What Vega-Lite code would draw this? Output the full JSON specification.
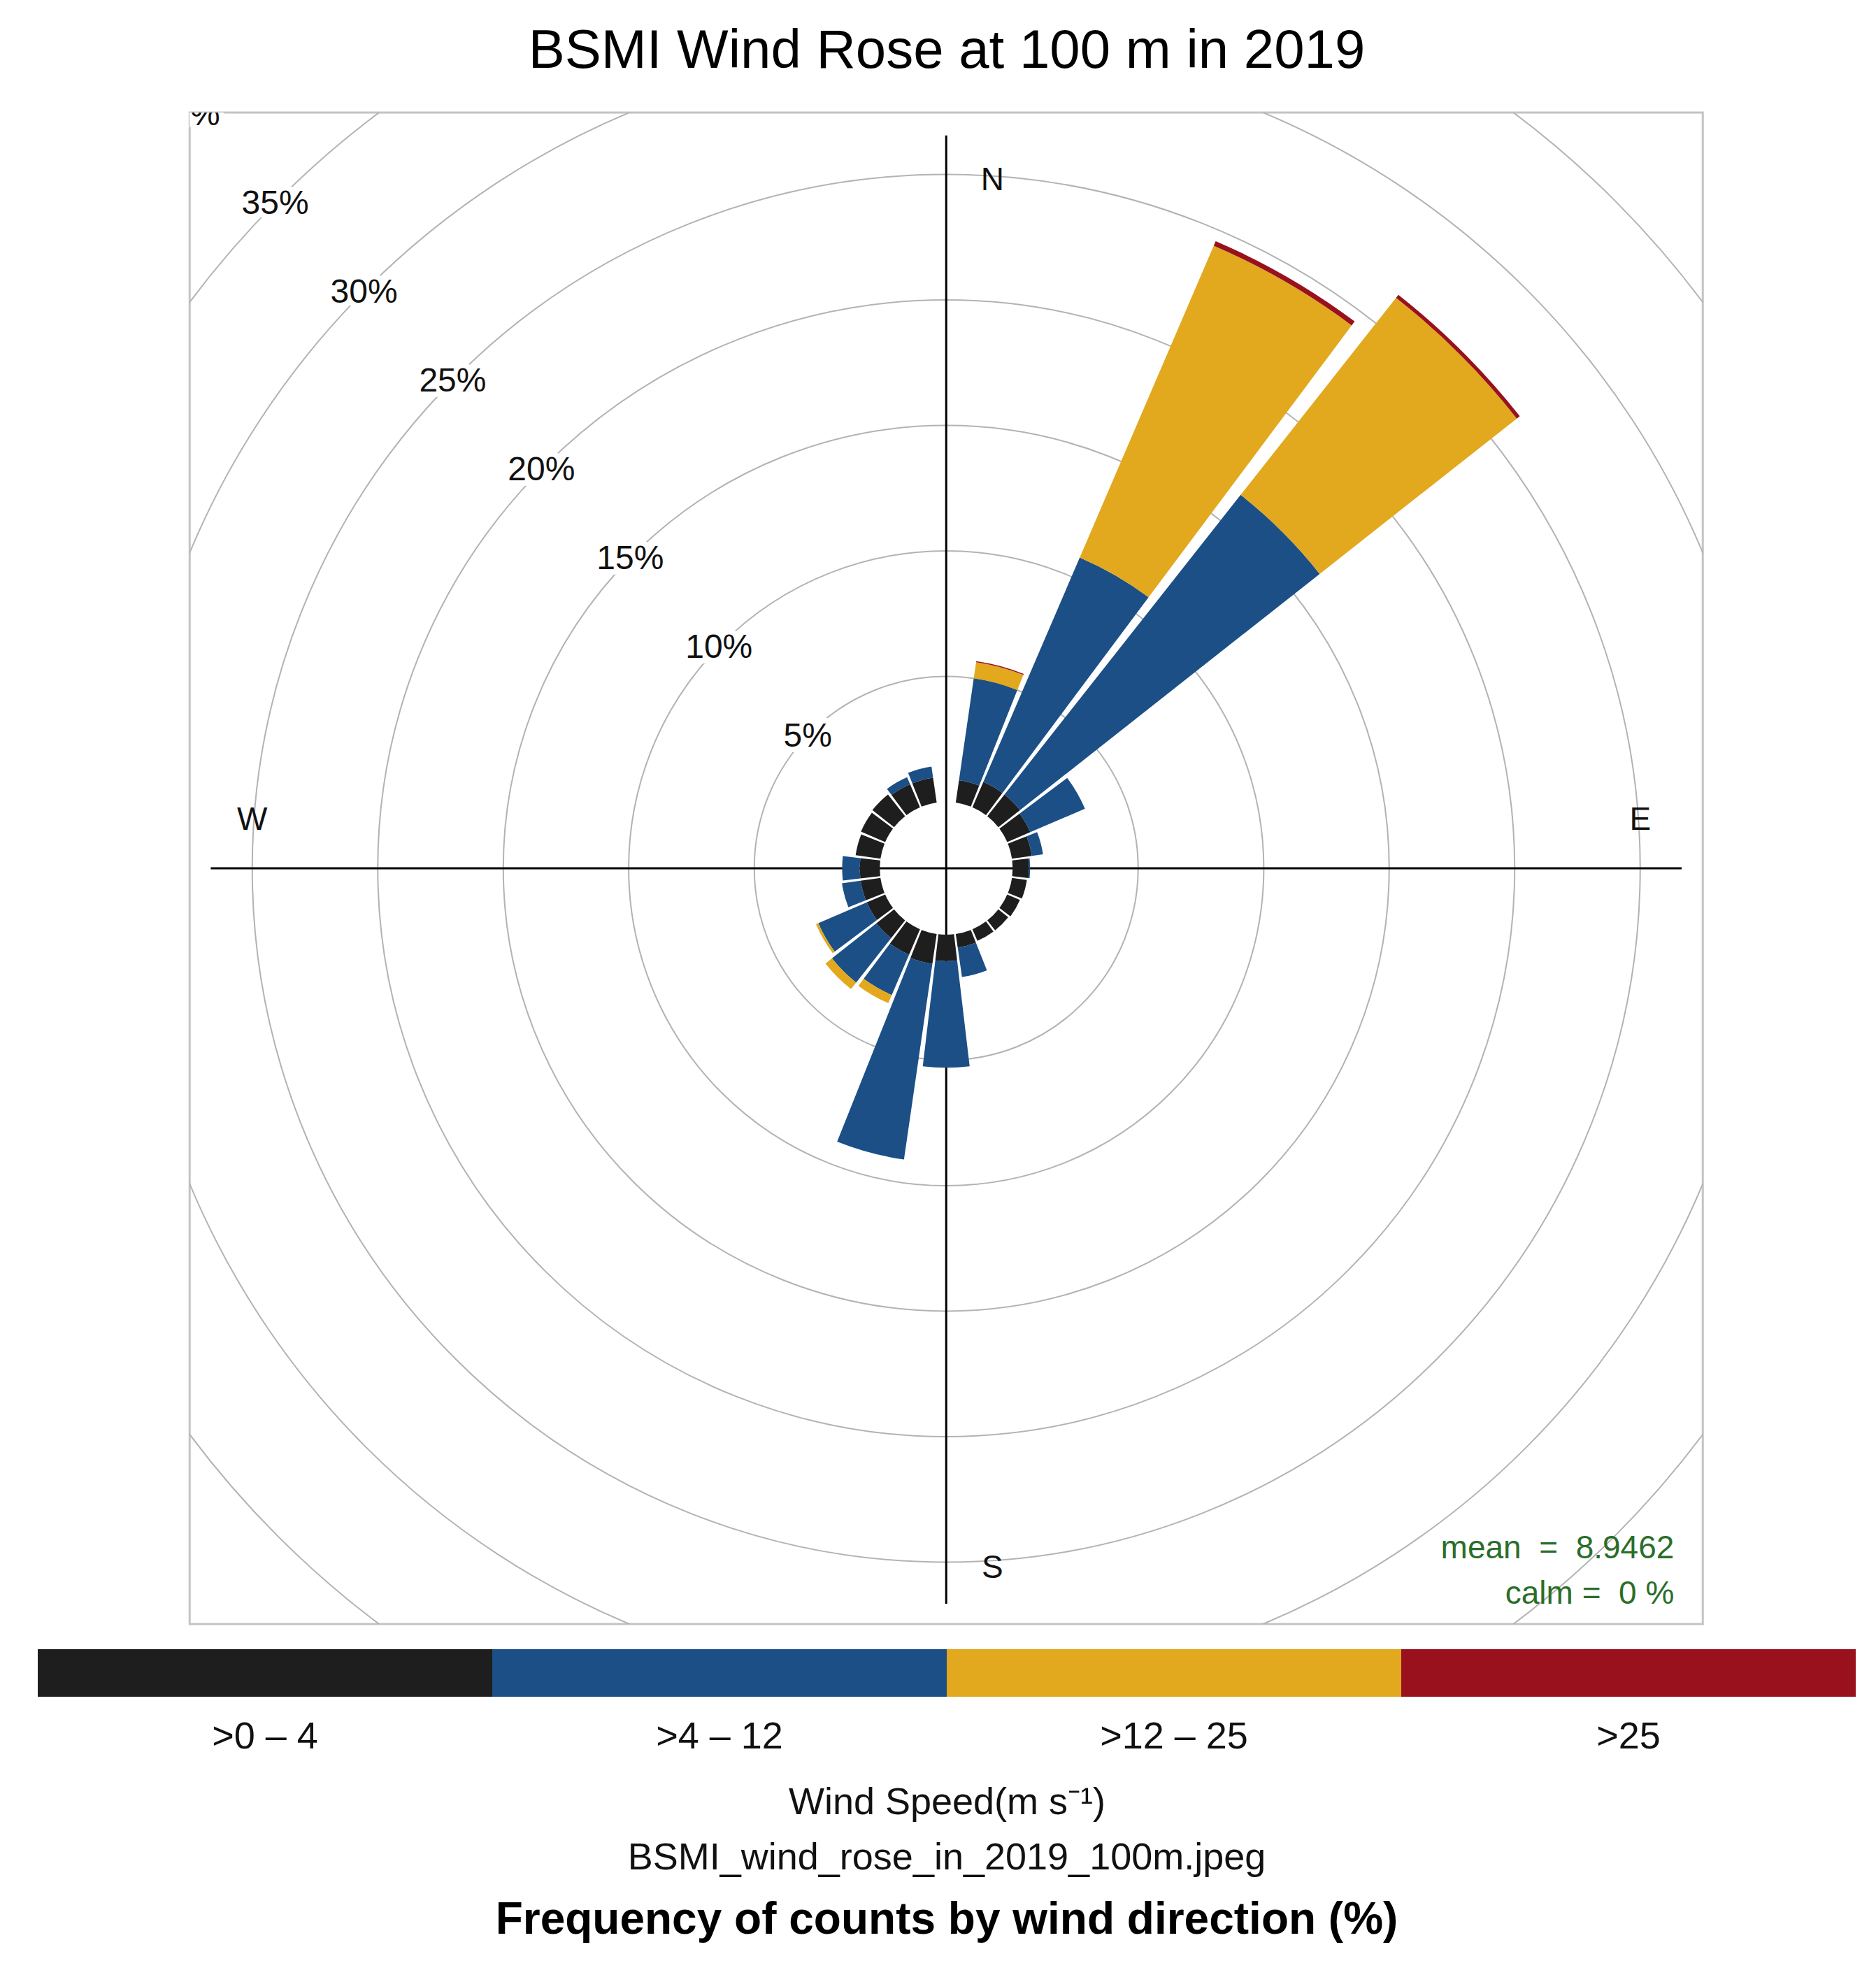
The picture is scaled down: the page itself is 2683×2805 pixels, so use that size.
{
  "$schema": "https://vega.github.io/schema/vega-lite/v6.json",
  "background": "white",
  "padding": {"top": 34, "left": 54, "right": 30, "bottom": 0},
  "title": {"text": "BSMI Wind Rose at 100 m in 2019", "fontSize": 78, "fontWeight": "normal", "color": "black", "anchor": "middle", "offset": 47},
  "datasets": {
    "rose": [
      {"dir": 15, "ws": 0, "speed": ">0 – 4", "freq": 0.9},
      {"dir": 15, "ws": 4, "speed": ">4 – 12", "freq": 4.1},
      {"dir": 15, "ws": 12, "speed": ">12 – 25", "freq": 0.65},
      {"dir": 15, "ws": 25, "speed": ">25", "freq": 0.04},
      {"dir": 30, "ws": 0, "speed": ">0 – 4", "freq": 1.1},
      {"dir": 30, "ws": 4, "speed": ">4 – 12", "freq": 9.73},
      {"dir": 30, "ws": 12, "speed": ">12 – 25", "freq": 13.52},
      {"dir": 30, "ws": 25, "speed": ">25", "freq": 0.2},
      {"dir": 45, "ws": 0, "speed": ">0 – 4", "freq": 1.1},
      {"dir": 45, "ws": 4, "speed": ">4 – 12", "freq": 15.2},
      {"dir": 45, "ws": 12, "speed": ">12 – 25", "freq": 10.0},
      {"dir": 45, "ws": 25, "speed": ">25", "freq": 0.15},
      {"dir": 60, "ws": 0, "speed": ">0 – 4", "freq": 1.0},
      {"dir": 60, "ws": 4, "speed": ">4 – 12", "freq": 2.37},
      {"dir": 75, "ws": 0, "speed": ">0 – 4", "freq": 0.8},
      {"dir": 75, "ws": 4, "speed": ">4 – 12", "freq": 0.45},
      {"dir": 90, "ws": 0, "speed": ">0 – 4", "freq": 0.65},
      {"dir": 90, "ws": 4, "speed": ">4 – 12", "freq": 0.05},
      {"dir": 105, "ws": 0, "speed": ">0 – 4", "freq": 0.6},
      {"dir": 120, "ws": 0, "speed": ">0 – 4", "freq": 0.55},
      {"dir": 135, "ws": 0, "speed": ">0 – 4", "freq": 0.5},
      {"dir": 150, "ws": 0, "speed": ">0 – 4", "freq": 0.5},
      {"dir": 165, "ws": 0, "speed": ">0 – 4", "freq": 0.55},
      {"dir": 165, "ws": 4, "speed": ">4 – 12", "freq": 1.18},
      {"dir": 180, "ws": 0, "speed": ">0 – 4", "freq": 1.05},
      {"dir": 180, "ws": 4, "speed": ">4 – 12", "freq": 4.25},
      {"dir": 195, "ws": 0, "speed": ">0 – 4", "freq": 1.2},
      {"dir": 195, "ws": 4, "speed": ">4 – 12", "freq": 7.88},
      {"dir": 210, "ws": 0, "speed": ">0 – 4", "freq": 1.1},
      {"dir": 210, "ws": 4, "speed": ">4 – 12", "freq": 1.75},
      {"dir": 210, "ws": 12, "speed": ">12 – 25", "freq": 0.35},
      {"dir": 225, "ws": 0, "speed": ">0 – 4", "freq": 0.9},
      {"dir": 225, "ws": 4, "speed": ">4 – 12", "freq": 2.25},
      {"dir": 225, "ws": 12, "speed": ">12 – 25", "freq": 0.33},
      {"dir": 240, "ws": 0, "speed": ">0 – 4", "freq": 0.8},
      {"dir": 240, "ws": 4, "speed": ">4 – 12", "freq": 2.1},
      {"dir": 240, "ws": 12, "speed": ">12 – 25", "freq": 0.1},
      {"dir": 255, "ws": 0, "speed": ">0 – 4", "freq": 0.8},
      {"dir": 255, "ws": 4, "speed": ">4 – 12", "freq": 0.75},
      {"dir": 270, "ws": 0, "speed": ">0 – 4", "freq": 0.8},
      {"dir": 270, "ws": 4, "speed": ">4 – 12", "freq": 0.7},
      {"dir": 285, "ws": 0, "speed": ">0 – 4", "freq": 1.0},
      {"dir": 300, "ws": 0, "speed": ">0 – 4", "freq": 1.05},
      {"dir": 315, "ws": 0, "speed": ">0 – 4", "freq": 1.1},
      {"dir": 330, "ws": 0, "speed": ">0 – 4", "freq": 1.0},
      {"dir": 330, "ws": 4, "speed": ">4 – 12", "freq": 0.3},
      {"dir": 345, "ws": 0, "speed": ">0 – 4", "freq": 1.0},
      {"dir": 345, "ws": 4, "speed": ">4 – 12", "freq": 0.45}
    ],
    "rings": [
      {"p": 5, "label": "5%"}, {"p": 10, "label": "10%"}, {"p": 15, "label": "15%"}, {"p": 20, "label": "20%"},
      {"p": 25, "label": "25%"}, {"p": 30, "label": "30%"}, {"p": 35, "label": "35%"}, {"p": 40, "label": "40%"}
    ],
    "compass": [
      {"label": "N", "dir": 0}, {"label": "E", "dir": 90}, {"label": "S", "dir": 180}, {"label": "W", "dir": 270}
    ],
    "bins": [
      {"speed": ">0 – 4"}, {"speed": ">4 – 12"}, {"speed": ">12 – 25"}, {"speed": ">25"}
    ]
  },
  "center": true,
  "spacing": 34,
  "vconcat": [
    {
      "width": 2164,
      "height": 2162,
      "view": {"stroke": "#c4c4c4", "strokeWidth": 3},
      "layer": [
        {
          "data": {"name": "rings"},
          "mark": {"type": "arc", "filled": false, "stroke": "#b3b3b3", "strokeWidth": 2, "clip": true},
          "encoding": {
            "theta": {"datum": 0, "type": "quantitative", "stack": null, "scale": {"domain": [0, 360], "range": [0, 6.283185307179586]}},
            "theta2": {"datum": 360},
            "radius": {"field": "p", "type": "quantitative", "scale": {"type": "linear", "domain": [0, 40], "range": [95, 1531], "zero": false}},
            "radius2": {"field": "p"}
          }
        },
        {
          "data": {"values": [{}]},
          "mark": {"type": "rule", "color": "black", "strokeWidth": 3},
          "encoding": {
            "x": {"datum": 0, "type": "quantitative", "scale": {"domain": [-30.14, 30.14]}, "axis": null},
            "y": {"datum": -29.3, "type": "quantitative", "scale": {"domain": [-30.11, 30.11]}, "axis": null},
            "y2": {"datum": 29.2}
          }
        },
        {
          "data": {"values": [{}]},
          "mark": {"type": "rule", "color": "black", "strokeWidth": 3},
          "encoding": {
            "y": {"datum": 0, "type": "quantitative", "scale": {"domain": [-30.11, 30.11]}, "axis": null},
            "x": {"datum": -29.3, "type": "quantitative", "scale": {"domain": [-30.14, 30.14]}, "axis": null},
            "x2": {"datum": 29.3}
          }
        },
        {
          "data": {"name": "rose"},
          "transform": [
            {"stack": "freq", "groupby": ["dir"], "sort": [{"field": "ws", "order": "ascending"}], "as": ["r0", "r1"]},
            {"calculate": "datum.dir - 6.75", "as": "a0"},
            {"calculate": "datum.dir + 6.75", "as": "a1"}
          ],
          "mark": {"type": "arc"},
          "encoding": {
            "theta": {"field": "a0", "type": "quantitative", "stack": null, "scale": {"domain": [0, 360], "range": [0, 6.283185307179586]}},
            "theta2": {"field": "a1"},
            "radius": {"field": "r0", "type": "quantitative", "scale": {"type": "linear", "domain": [0, 40], "range": [95, 1531], "zero": false}},
            "radius2": {"field": "r1"},
            "color": {
              "field": "speed", "type": "nominal",
              "scale": {"domain": [">0 – 4", ">4 – 12", ">12 – 25", ">25"], "range": ["#1e1e1e", "#1b4f86", "#e2a81e", "#98111d"]},
              "legend": null
            }
          }
        },
        {
          "data": {"name": "rings"},
          "mark": {"type": "text", "fontSize": 48, "dx": -4, "dy": 6, "clip": true, "stroke": "white", "strokeWidth": 16, "strokeJoin": "round", "color": "black"},
          "encoding": {
            "theta": {"datum": 315, "type": "quantitative", "stack": null, "scale": {"domain": [0, 360], "range": [0, 6.283185307179586]}},
            "radius": {"field": "p", "type": "quantitative", "scale": {"type": "linear", "domain": [0, 40], "range": [95, 1531], "zero": false}},
            "text": {"field": "label"}
          }
        },
        {
          "data": {"name": "rings"},
          "mark": {"type": "text", "fontSize": 48, "dx": -4, "dy": 6, "clip": true, "color": "#111111"},
          "encoding": {
            "theta": {"datum": 315, "type": "quantitative", "stack": null, "scale": {"domain": [0, 360], "range": [0, 6.283185307179586]}},
            "radius": {"field": "p", "type": "quantitative", "scale": {"type": "linear", "domain": [0, 40], "range": [95, 1531], "zero": false}},
            "text": {"field": "label"}
          }
        },
        {
          "data": {"name": "compass"},
          "transform": [{"filter": "datum.dir % 180 == 0"}],
          "mark": {"type": "text", "fontSize": 46, "dx": 66, "dy": 8, "color": "#111111"},
          "encoding": {
            "theta": {"field": "dir", "type": "quantitative", "stack": null, "scale": {"domain": [0, 360], "range": [0, 6.283185307179586]}},
            "radius": {"datum": 25, "type": "quantitative", "scale": {"type": "linear", "domain": [0, 40], "range": [95, 1531], "zero": false}},
            "text": {"field": "label"}
          }
        },
        {
          "data": {"name": "compass"},
          "transform": [{"filter": "datum.dir % 180 == 90"}],
          "mark": {"type": "text", "fontSize": 46, "dy": -69, "color": "#111111"},
          "encoding": {
            "theta": {"field": "dir", "type": "quantitative", "stack": null, "scale": {"domain": [0, 360], "range": [0, 6.283185307179586]}},
            "radius": {"datum": 25, "type": "quantitative", "scale": {"type": "linear", "domain": [0, 40], "range": [95, 1531], "zero": false}},
            "text": {"field": "label"}
          }
        },
        {
          "data": {"values": [{}]},
          "mark": {"type": "text", "text": "mean\u00a0\u00a0=\u00a0\u00a08.9462", "fontSize": 46, "align": "right", "baseline": "alphabetic", "color": "#2a6e2a"},
          "encoding": {
            "x": {"datum": 29.0, "type": "quantitative", "scale": {"domain": [-30.14, 30.14]}, "axis": null},
            "y": {"datum": -27.5, "type": "quantitative", "scale": {"domain": [-30.11, 30.11]}, "axis": null}
          }
        },
        {
          "data": {"values": [{}]},
          "mark": {"type": "text", "text": "calm\u00a0=\u00a0\u00a00\u00a0%", "fontSize": 46, "align": "right", "baseline": "alphabetic", "color": "#2a6e2a"},
          "encoding": {
            "x": {"datum": 29.0, "type": "quantitative", "scale": {"domain": [-30.14, 30.14]}, "axis": null},
            "y": {"datum": -29.3, "type": "quantitative", "scale": {"domain": [-30.11, 30.11]}, "axis": null}
          }
        }
      ]
    },
    {
      "width": 2600,
      "height": 68,
      "view": {"stroke": null},
      "data": {"name": "bins"},
      "mark": {"type": "rect"},
      "encoding": {
        "x": {
          "field": "speed", "type": "nominal",
          "sort": [">0 – 4", ">4 – 12", ">12 – 25", ">25"],
          "scale": {"domain": [">0 – 4", ">4 – 12", ">12 – 25", ">25"], "paddingInner": 0, "paddingOuter": 0},
          "axis": {
            "orient": "bottom", "ticks": false, "domain": false, "labelAngle": 0, "labelLimit": 0,
            "labelFontSize": 54, "labelPadding": 30, "labelColor": "#111111",
            "title": "Wind Speed(m s⁻¹)", "titleFontSize": 54, "titleFontWeight": "normal", "titleColor": "#111111", "titlePadding": 40
          }
        },
        "color": {
          "field": "speed", "type": "nominal",
          "scale": {"domain": [">0 – 4", ">4 – 12", ">12 – 25", ">25"], "range": ["#1e1e1e", "#1b4f86", "#e2a81e", "#98111d"]},
          "legend": null
        }
      },
      "title": {
        "text": "BSMI_wind_rose_in_2019_100m.jpeg",
        "orient": "bottom", "anchor": "middle", "fontSize": 54, "fontWeight": "normal", "color": "#111111", "offset": 26,
        "subtitle": "Frequency of counts by wind direction (%)",
        "subtitleFontSize": 64, "subtitleFontWeight": "bold", "subtitleColor": "black", "subtitlePadding": 30
      }
    }
  ],
  "config": {
    "font": "Liberation Sans",
    "title": {"font": "Liberation Sans", "subtitleFont": "Liberation Sans"},
    "axis": {"labelFont": "Liberation Sans", "titleFont": "Liberation Sans"}
  }
}
